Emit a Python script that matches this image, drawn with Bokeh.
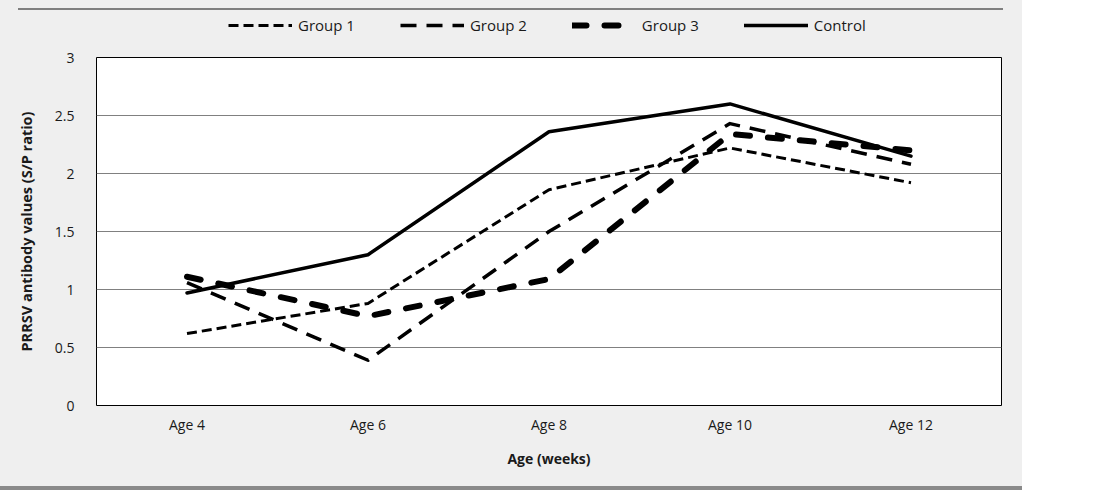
from bokeh.plotting import figure
from bokeh.models import Legend, LegendItem, Div, Column, FactorRange, Range1d, FixedTicker
from bokeh.embed import file_html
from bokeh.resources import INLINE

ages = ["Age 4", "Age 6", "Age 8", "Age 10", "Age 12"]
group1 = [0.62, 0.88, 1.86, 2.22, 1.92]
group2 = [1.06, 0.39, 1.50, 2.43, 2.08]
group3 = [1.11, 0.77, 1.09, 2.34, 2.20]
control = [0.97, 1.30, 2.36, 2.60, 2.15]
series_names = ["Group 1", "Group 2", "Group 3", "Control"]
y_ticks = [0, 0.5, 1, 1.5, 2, 2.5, 3]
y_tick_labels = ["0", "0.5", "1", "1.5", "2", "2.5", "3"]

FONT = "Open Sans"
BG = "#efefef"
TXT = "#1a1a1a"

styles = [
    dict(line_width=3, line_dash="10 5", line_cap="butt"),
    dict(line_width=3.5, line_dash="16 10", line_cap="butt"),
    dict(line_width=6, line_dash="14 18", line_cap="round"),
    dict(line_width=3.5, line_dash="solid", line_cap="round"),
]
all_series = [group1, group2, group3, control]

# ---- main chart ----
p = figure(width=1022, height=439, output_backend="svg", toolbar_location=None,
           x_range=FactorRange(factors=ages, range_padding=0),
           y_range=Range1d(0, 3),
           min_border_left=96, min_border_right=21, min_border_top=10, min_border_bottom=81)
p.background_fill_color = "white"
p.border_fill_color = BG
p.outline_line_color = "black"
p.outline_line_width = 1

for name, vals, st in zip(series_names, all_series, styles):
    p.line(x=ages, y=vals, line_color="black", line_join="round", **st)

p.xgrid.grid_line_color = None
p.ygrid.grid_line_color = "#808080"
p.ygrid.grid_line_width = 1
p.yaxis.ticker = FixedTicker(ticks=y_ticks)
p.yaxis.major_label_overrides = {t: l for t, l in zip(y_ticks, y_tick_labels)}
for ax in (p.xaxis[0], p.yaxis[0]):
    ax.axis_line_color = None
    ax.major_tick_line_color = None
    ax.minor_tick_line_color = None
    ax.major_tick_out = 0
    ax.major_tick_in = 0
    ax.minor_tick_out = 0
    ax.major_label_text_font = FONT
    ax.major_label_text_font_size = "14px"
    ax.major_label_text_color = TXT
    ax.axis_label_text_font = FONT
    ax.axis_label_text_font_style = "bold"
    ax.axis_label_text_color = TXT

p.yaxis.axis_label = "PRRSV antibody values (S/P ratio)"
p.yaxis.axis_label_text_font_size = "14.5px"
p.yaxis.major_label_standoff = 22
p.yaxis.axis_label_standoff = 16
p.xaxis.axis_label = "Age (weeks)"
p.xaxis.axis_label_text_font_size = "14px"
p.xaxis.major_label_standoff = 9
p.xaxis.axis_label_standoff = 12

# ---- legend strip (same series, drawn outside its visible range) ----
lg = figure(width=1022, height=37, output_backend="svg", toolbar_location=None,
            x_range=FactorRange(factors=ages, range_padding=0), y_range=Range1d(10, 11),
            x_axis_location=None, y_axis_location=None,
            min_border_left=0, min_border_right=0, min_border_top=0, min_border_bottom=0)
lg.grid.visible = False
lg.outline_line_color = None
lg.background_fill_color = BG
lg.border_fill_color = BG
legend_renderers = [lg.line(x=ages, y=vals, line_color="black", line_join="round", **st)
                    for vals, st in zip(all_series, styles)]
legend = Legend(items=[LegendItem(label=n, renderers=[r]) for n, r in zip(series_names, legend_renderers)],
                orientation="horizontal", location=(132, 12),
                glyph_width=64, glyph_height=20, label_standoff=6, label_width=0, spacing=45,
                padding=0, margin=0,
                background_fill_alpha=0, border_line_color=None,
                label_text_font=FONT, label_text_font_size="15px", label_text_color=TXT)
lg.add_layout(legend, "center")

top_space = Div(text="", width=1022, height=8, margin=0)
top_line = Div(text="", width=985, height=2, margin=(0, 0, 0, 18),
               styles={"background-color": "#7f7f7f"})
bottom_line = Div(text="", width=1022, height=4, margin=0,
                  styles={"background-color": "#8a8a8a"})
layout = Column(children=[top_space, top_line, lg, p, bottom_line], width=1022, spacing=0,
                styles={"background-color": BG})

open("out.html", "w").write(file_html(layout, INLINE))
